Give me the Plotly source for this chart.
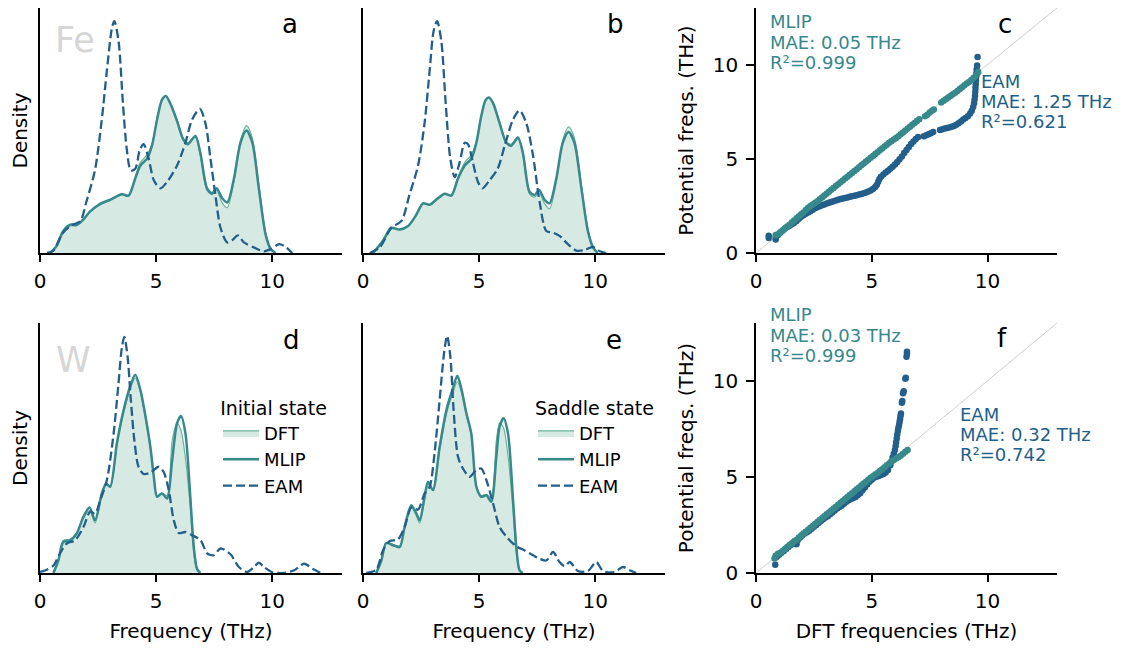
import plotly.graph_objects as go

# The page body has an 8px default margin: the figure occupies screen px 8..1123 x 8..650
OFF = 8
W, H = 1123 - OFF, 650 - OFF

# ---------------- DATA ----------------
# Panel a: Fe, initial state (density, arbitrary units; axis top = 1)
fe_ini_x = [0.43, 0.72, 1.0, 1.3, 1.58, 1.87, 2.16, 2.6, 3.02, 3.52, 3.81, 4.1, 4.32, 4.6, 4.82, 5.04, 5.25, 5.42,
            5.6, 5.9, 6.16, 6.36, 6.69, 6.9, 7.19, 7.41, 7.6, 7.84, 8.06, 8.35, 8.63, 8.89, 9.14, 9.42, 9.71, 9.93, 10.14]
fe_ini_mlip = [0, 0.03, 0.09, 0.116, 0.114, 0.137, 0.17, 0.2, 0.217, 0.24, 0.234, 0.304, 0.357, 0.384, 0.438, 0.545,
               0.625, 0.641, 0.612, 0.538, 0.465, 0.444, 0.478, 0.41, 0.264, 0.244, 0.264, 0.224, 0.206, 0.304, 0.45,
               0.5, 0.45, 0.264, 0.076, 0.016, 0]
fe_ini_dft = [0, 0.025, 0.085, 0.11, 0.112, 0.135, 0.17, 0.205, 0.22, 0.238, 0.236, 0.31, 0.37, 0.4, 0.445, 0.55,
              0.625, 0.64, 0.615, 0.545, 0.47, 0.45, 0.472, 0.4, 0.255, 0.238, 0.255, 0.205, 0.185, 0.295, 0.46,
              0.52, 0.47, 0.28, 0.085, 0.02, 0]
fe_ini_eam_x = [0.3, 0.58, 0.94, 1.3, 1.73, 2.0, 2.37, 2.66, 2.88, 3.1, 3.2, 3.38, 3.57, 3.74, 3.91, 4.1, 4.29, 4.46,
                4.68, 4.9, 5.18, 5.47, 5.9, 6.26, 6.55, 6.88, 7.12, 7.34, 7.55, 7.77, 8.06, 8.27, 8.52, 8.78, 9.2,
                9.64, 9.93, 10.3, 10.6, 10.86]
fe_ini_eam = [0, 0.01, 0.076, 0.11, 0.13, 0.21, 0.34, 0.545, 0.745, 0.92, 0.946, 0.866, 0.61, 0.42, 0.337, 0.344,
              0.418, 0.444, 0.384, 0.297, 0.264, 0.29, 0.357, 0.45, 0.545, 0.588, 0.53, 0.384, 0.237, 0.103, 0.043,
              0.052, 0.072, 0.043, 0.023, 0.007, 0.016, 0.036, 0.023, 0]

# Panel b: Fe, saddle state
fe_sad_x = [0.43, 0.86, 1.22, 1.58, 1.94, 2.3, 2.58, 2.87, 3.23, 3.52, 3.8, 4.09, 4.38, 4.66, 4.88, 5.09, 5.28, 5.42,
            5.6, 5.88, 6.17, 6.38, 6.67, 6.88, 7.17, 7.39, 7.58, 7.82, 8.03, 8.32, 8.6, 8.85, 9.1, 9.4, 9.68, 9.9, 10.1]
fe_sad_mlip = [0, 0.05, 0.103, 0.096, 0.11, 0.157, 0.203, 0.197, 0.224, 0.242, 0.234, 0.304, 0.357, 0.384, 0.45,
               0.558, 0.625, 0.635, 0.612, 0.53, 0.45, 0.438, 0.47, 0.41, 0.25, 0.237, 0.257, 0.217, 0.203, 0.304,
               0.45, 0.494, 0.45, 0.264, 0.09, 0.023, 0]
fe_sad_dft = [0, 0.045, 0.098, 0.094, 0.108, 0.155, 0.2, 0.197, 0.222, 0.24, 0.236, 0.31, 0.37, 0.4, 0.455, 0.56,
              0.625, 0.632, 0.61, 0.535, 0.455, 0.445, 0.475, 0.4, 0.24, 0.228, 0.245, 0.2, 0.18, 0.29, 0.46, 0.515,
              0.47, 0.28, 0.1, 0.028, 0]
fe_sad_eam_x = [0.29, 0.72, 1.22, 1.65, 2.0, 2.37, 2.65, 2.87, 3.04, 3.19, 3.37, 3.56, 3.76, 3.95, 4.16, 4.38, 4.52,
                4.73, 4.95, 5.14, 5.45, 5.8, 6.1, 6.46, 6.74, 7.03, 7.32, 7.6, 7.89, 8.18, 8.46, 8.82, 9.18, 9.54,
                9.9, 10.2, 10.47]
fe_sad_eam = [0, 0.023, 0.103, 0.13, 0.237, 0.357, 0.53, 0.745, 0.906, 0.946, 0.866, 0.61, 0.384, 0.31, 0.37, 0.45,
              0.444, 0.37, 0.29, 0.264, 0.297, 0.344, 0.438, 0.545, 0.582, 0.53, 0.397, 0.21, 0.09, 0.083, 0.07,
              0.036, 0.01, 0.012, 0.025, 0.007, 0]

# Panel d: W, initial state
w_ini_x = [0.58, 0.79, 1.0, 1.3, 1.58, 1.87, 2.13, 2.37, 2.66, 2.85, 3.02, 3.31, 3.6, 3.88, 4.1, 4.32, 4.53, 4.75,
           4.9, 5.04, 5.25, 5.47, 5.69, 5.9, 6.07, 6.26, 6.47, 6.62, 6.76, 6.9]
w_ini_mlip = [0, 0.05, 0.124, 0.131, 0.158, 0.225, 0.262, 0.211, 0.318, 0.358, 0.345, 0.519, 0.652, 0.746, 0.793,
              0.733, 0.632, 0.505, 0.385, 0.305, 0.318, 0.298, 0.452, 0.599, 0.628, 0.559, 0.305, 0.104, 0.017, 0]
w_ini_dft = [0, 0.055, 0.13, 0.135, 0.16, 0.218, 0.25, 0.2, 0.31, 0.352, 0.345, 0.51, 0.64, 0.735, 0.78, 0.725,
             0.625, 0.5, 0.385, 0.31, 0.32, 0.31, 0.53, 0.6, 0.57, 0.46, 0.26, 0.08, 0.01, 0]
w_ini_eam_x = [0, 0.29, 0.58, 0.86, 1.15, 1.51, 1.87, 2.16, 2.37, 2.59, 2.88, 3.17, 3.38, 3.53, 3.63, 3.77, 3.91,
               4.06, 4.24, 4.46, 4.75, 5.11, 5.32, 5.54, 5.76, 5.97, 6.26, 6.55, 6.91, 7.2, 7.48, 7.77, 8.2, 8.56,
               8.92, 9.21, 9.42, 9.64, 10.0, 10.5, 10.94, 11.37, 11.73, 12.09]
w_ini_eam = [0.004, 0.013, 0.03, 0.078, 0.118, 0.131, 0.184, 0.245, 0.238, 0.29, 0.372, 0.559, 0.759, 0.906, 0.944,
             0.866, 0.693, 0.532, 0.425, 0.396, 0.401, 0.425, 0.405, 0.332, 0.211, 0.16, 0.164, 0.151, 0.131, 0.078,
             0.071, 0.098, 0.075, 0.024, 0.004, 0.024, 0.041, 0.024, 0.003, 0, 0.011, 0.037, 0.017, 0]

# Panel e: W, saddle state
w_sad_x = [0.57, 0.79, 1.0, 1.29, 1.58, 1.79, 2.08, 2.3, 2.44, 2.65, 2.8, 3.01, 3.3, 3.59, 3.87, 4.06, 4.23, 4.45,
           4.66, 4.88, 5.09, 5.31, 5.52, 5.74, 5.88, 6.05, 6.24, 6.46, 6.6, 6.74, 6.88]
w_sad_mlip = [0, 0.05, 0.12, 0.111, 0.104, 0.184, 0.271, 0.238, 0.211, 0.305, 0.365, 0.332, 0.505, 0.652, 0.739,
              0.789, 0.739, 0.639, 0.559, 0.345, 0.305, 0.311, 0.285, 0.465, 0.586, 0.619, 0.559, 0.291, 0.104,
              0.011, 0]
w_sad_dft = [0, 0.05, 0.12, 0.115, 0.108, 0.175, 0.26, 0.228, 0.2, 0.29, 0.355, 0.33, 0.49, 0.635, 0.72, 0.765,
             0.725, 0.63, 0.55, 0.35, 0.31, 0.315, 0.3, 0.53, 0.6, 0.58, 0.47, 0.25, 0.08, 0.008, 0]
w_sad_eam_x = [0.14, 0.57, 0.86, 1.15, 1.5, 1.79, 2.08, 2.37, 2.65, 2.87, 3.08, 3.3, 3.49, 3.62, 3.76, 3.9, 4.09,
               4.3, 4.59, 4.88, 5.09, 5.31, 5.6, 5.88, 6.24, 6.6, 6.96, 7.32, 7.6, 7.89, 8.18, 8.46, 8.68, 8.9,
               9.25, 9.68, 10.04, 10.33, 10.83, 11.19, 11.48, 11.76]
w_sad_eam = [0, 0.013, 0.09, 0.128, 0.134, 0.184, 0.262, 0.254, 0.318, 0.345, 0.479, 0.693, 0.88, 0.949, 0.866,
             0.652, 0.465, 0.418, 0.385, 0.412, 0.418, 0.372, 0.278, 0.184, 0.138, 0.107, 0.09, 0.071, 0.057, 0.05,
             0.084, 0.044, 0.027, 0.044, 0.008, 0.008, 0.044, 0.008, 0.004, 0.024, 0.011, 0]

# Panel c: Fe parity (DFT frequency, potential frequency), THz
fe_mlip_dft = [0.85, 0.95, 1.05, 1.15, 1.25, 1.35, 1.45, 1.55, 1.65, 1.75, 1.85, 1.95, 2.05, 2.15, 2.25, 2.35, 2.45,
               2.55, 2.65, 2.75, 2.85, 2.95, 3.05, 3.15, 3.25, 3.35, 3.45, 3.55, 3.65, 3.75, 3.85, 3.95, 4.05, 4.15,
               4.25, 4.35, 4.45, 4.55, 4.65, 4.75, 4.85, 4.95, 5.05, 5.15, 5.25, 5.35, 5.45, 5.55, 5.65, 5.75, 5.85,
               5.95, 6.05, 6.15, 6.25, 6.35, 6.45, 6.55, 6.65, 6.75, 6.85, 6.95, 7.05, 7.3, 7.4, 7.5, 7.6, 7.68,
               8.0, 8.1, 8.2, 8.3, 8.4, 8.5, 8.6, 8.7, 8.8, 8.9, 9.0, 9.1, 9.2, 9.3, 9.4, 9.5, 9.55, 9.6]
fe_mlip_pot = [0.95, 1.0, 1.1, 1.2, 1.3, 1.4, 1.5, 1.62, 1.72, 1.85, 1.95, 2.05, 2.15, 2.28, 2.4, 2.5, 2.57, 2.65,
               2.75, 2.85, 2.95, 3.05, 3.15, 3.25, 3.35, 3.45, 3.55, 3.65, 3.75, 3.85, 3.95, 4.05, 4.15, 4.25, 4.35,
               4.45, 4.55, 4.65, 4.75, 4.85, 4.95, 5.05, 5.15, 5.25, 5.35, 5.45, 5.55, 5.65, 5.75, 5.85, 5.93, 6.02,
               6.1, 6.2, 6.3, 6.4, 6.5, 6.6, 6.7, 6.8, 6.9, 7.0, 7.1, 7.25, 7.33, 7.45, 7.55, 7.62, 7.98, 8.08, 8.16,
               8.25, 8.33, 8.42, 8.5, 8.6, 8.7, 8.8, 8.9, 9.0, 9.08, 9.18, 9.3, 9.42, 9.5, 9.6]
fe_eam_dft = [0.55, 0.55, 0.85, 0.85, 0.95, 1.05, 1.15, 1.25, 1.35, 1.45, 1.55, 1.65, 1.75, 1.85, 1.95, 2.05, 2.15,
              2.25, 2.35, 2.45, 2.55, 2.65, 2.75, 2.85, 2.95, 3.05, 3.15, 3.25, 3.35, 3.45, 3.55, 3.65, 3.75, 3.85,
              3.95, 4.05, 4.15, 4.25, 4.35, 4.45, 4.55, 4.65, 4.75, 4.85, 4.95, 5.05, 5.15, 5.22, 5.28, 5.33, 5.4,
              5.5, 5.6, 5.7, 5.8, 5.9, 6.0, 6.1, 6.2, 6.3, 6.4, 6.5, 6.6, 6.7, 6.8, 6.9, 7.0, 7.25, 7.35, 7.45,
              7.55, 7.65, 7.95, 8.05, 8.15, 8.25, 8.35, 8.45, 8.55, 8.65, 8.75, 8.85, 8.95, 9.05, 9.15, 9.25, 9.32,
              9.38, 9.42, 9.44, 9.46, 9.47, 9.48, 9.49, 9.5, 9.51, 9.52, 9.53, 9.55, 9.57]
fe_eam_pot = [0.92, 0.8, 0.72, 0.85, 0.95, 1.08, 1.2, 1.3, 1.38, 1.45, 1.52, 1.6, 1.7, 1.82, 1.92, 2.0, 2.08, 2.15,
              2.22, 2.3, 2.37, 2.43, 2.48, 2.53, 2.57, 2.62, 2.66, 2.7, 2.74, 2.78, 2.82, 2.86, 2.89, 2.92, 2.95,
              2.98, 3.01, 3.04, 3.07, 3.1, 3.13, 3.17, 3.21, 3.26, 3.32, 3.4, 3.5, 3.62, 3.78, 3.93, 4.05, 4.17,
              4.27, 4.37, 4.47, 4.57, 4.7, 4.83, 4.97, 5.12, 5.3, 5.47, 5.63, 5.78, 5.92, 6.05, 6.15, 6.2, 6.25,
              6.3, 6.36, 6.42, 6.52, 6.56, 6.6, 6.63, 6.66, 6.7, 6.74, 6.8, 6.88, 6.98, 7.08, 7.16, 7.26, 7.4, 7.55,
              7.75, 7.95, 8.15, 8.35, 8.55, 8.75, 8.95, 9.15, 9.35, 9.55, 9.75, 9.95, 10.4]

# Panel f: W parity
w_mlip_dft = [0.8, 0.85, 0.95, 1.05, 1.15, 1.25, 1.35, 1.45, 1.55, 1.65, 1.75, 1.85, 1.95, 2.05, 2.15, 2.25, 2.35,
              2.45, 2.55, 2.65, 2.75, 2.85, 2.95, 3.05, 3.15, 3.25, 3.35, 3.45, 3.55, 3.65, 3.75, 3.85, 3.95, 4.05,
              4.15, 4.25, 4.35, 4.45, 4.55, 4.65, 4.75, 4.85, 4.95, 5.05, 5.15, 5.25, 5.35, 5.45, 5.55, 5.65, 5.75,
              5.85, 5.95, 6.05, 6.15, 6.25, 6.35, 6.45, 6.55]
w_mlip_pot = [0.75, 0.9, 1.0, 1.05, 1.15, 1.25, 1.35, 1.45, 1.55, 1.65, 1.72, 1.85, 1.95, 2.05, 2.15, 2.25, 2.35,
              2.45, 2.55, 2.65, 2.75, 2.85, 2.95, 3.05, 3.15, 3.25, 3.35, 3.45, 3.55, 3.65, 3.75, 3.85, 3.95, 4.05,
              4.15, 4.25, 4.35, 4.45, 4.55, 4.65, 4.75, 4.85, 4.95, 5.03, 5.12, 5.2, 5.3, 5.4, 5.5, 5.6, 5.7, 5.8,
              5.88, 5.95, 6.02, 6.1, 6.2, 6.3, 6.4]
w_eam_dft = [0.83, 0.9, 1.0, 1.1, 1.2, 1.3, 1.4, 1.5, 1.6, 1.7, 1.75, 1.8, 1.9, 2.0, 2.1, 2.2, 2.3, 2.4, 2.5, 2.6,
             2.7, 2.8, 2.9, 3.0, 3.1, 3.2, 3.3, 3.4, 3.5, 3.6, 3.7, 3.8, 3.9, 4.0, 4.1, 4.2, 4.3, 4.4, 4.5, 4.6, 4.7,
             4.8, 4.9, 5.0, 5.1, 5.2, 5.3, 5.4, 5.5, 5.6, 5.7, 5.8, 5.85, 5.9, 5.95, 6.0, 6.03, 6.05, 6.08, 6.1,
             6.13, 6.15, 6.18, 6.2, 6.22, 6.24, 6.26, 6.3, 6.32, 6.35, 6.38, 6.45, 6.47, 6.5, 6.52, 6.52]
w_eam_pot = [0.43, 0.85, 0.95, 1.05, 1.15, 1.25, 1.35, 1.45, 1.55, 1.6, 1.5, 1.7, 1.85, 1.95, 2.05, 2.12, 2.2, 2.3,
             2.4, 2.5, 2.6, 2.7, 2.8, 2.88, 2.95, 3.05, 3.15, 3.25, 3.35, 3.42, 3.5, 3.6, 3.7, 3.78, 3.85, 3.9,
             3.95, 4.05, 4.15, 4.3, 4.45, 4.6, 4.75, 4.85, 4.95, 5.0, 5.05, 5.1, 5.15, 5.22, 5.35, 5.6, 5.8, 6.0,
             6.2, 6.4, 6.6, 6.8, 7.0, 7.2, 7.4, 7.55, 7.7, 7.85, 8.0, 8.15, 8.3, 8.85, 8.95, 9.35, 9.45, 10.1, 10.15,
             11.25, 11.4, 11.5]

diag = [0, 13]
freq_ticks = [0, 5, 10]
freq_range = [0, 13]
density_range = [0, 1.0]

fe_stats = {"MLIP": ["MLIP", "MAE: 0.05 THz", "R²=0.999"], "EAM": ["EAM", "MAE: 1.25 THz", "R²=0.621"]}
w_stats = {"MLIP": ["MLIP", "MAE: 0.03 THz", "R²=0.999"], "EAM": ["EAM", "MAE: 0.32 THz", "R²=0.742"]}

# ---------------- STYLE ----------------
FONT = "DejaVu Sans"
C_MLIP = "#37898b"
C_EAM = "#235f8a"
C_DFT_LINE = "#6db39a"
C_DFT_FILL = "rgba(109,179,154,0.28)"
C_DIAG = "#d0d0d0"


def px_x(p):
    return (p - OFF) / W


def px_y(p):
    return 1 - (p - OFF) / H


col_dom = [[px_x(40), px_x(342)], [px_x(363), px_x(665)], [px_x(756), px_x(1057)]]
row_dom = [[px_y(253), 1.0], [px_y(573), px_y(323)]]

fig = go.Figure()


def density_panel(idx, xs, mlip, dft, ex, eam, legend):
    xa, ya = f"x{idx}" if idx > 1 else "x", f"y{idx}" if idx > 1 else "y"
    show = legend is not None
    fig.add_trace(go.Scatter(x=xs, y=dft, mode="lines", name="DFT", fill="tozeroy", fillcolor=C_DFT_FILL,
                             line=dict(color=C_DFT_LINE, width=1.2, shape="spline", smoothing=0.8),
                             xaxis=xa, yaxis=ya, showlegend=show, legend=legend or "legend"))
    fig.add_trace(go.Scatter(x=xs, y=mlip, mode="lines", name="MLIP",
                             line=dict(color=C_MLIP, width=2.5, shape="spline", smoothing=0.8),
                             xaxis=xa, yaxis=ya, showlegend=show, legend=legend or "legend"))
    fig.add_trace(go.Scatter(x=ex, y=eam, mode="lines", name="EAM",
                             line=dict(color=C_EAM, width=2.3, dash="9px,4px", shape="spline", smoothing=0.8),
                             xaxis=xa, yaxis=ya, showlegend=show, legend=legend or "legend"))


def parity_panel(idx, mx, my, ex, ey):
    xa, ya = f"x{idx}", f"y{idx}"
    fig.add_trace(go.Scatter(x=diag, y=diag, mode="lines", line=dict(color=C_DIAG, width=1),
                             xaxis=xa, yaxis=ya, showlegend=False, hoverinfo="skip"))
    fig.add_trace(go.Scatter(x=ex, y=ey, mode="markers", marker=dict(color=C_EAM, size=6.5),
                             xaxis=xa, yaxis=ya, showlegend=False))
    fig.add_trace(go.Scatter(x=mx, y=my, mode="markers", marker=dict(color=C_MLIP, size=6.5),
                             xaxis=xa, yaxis=ya, showlegend=False))


density_panel(1, fe_ini_x, fe_ini_mlip, fe_ini_dft, fe_ini_eam_x, fe_ini_eam, None)
density_panel(2, fe_sad_x, fe_sad_mlip, fe_sad_dft, fe_sad_eam_x, fe_sad_eam, None)
parity_panel(3, fe_mlip_dft, fe_mlip_pot, fe_eam_dft, fe_eam_pot)
density_panel(4, w_ini_x, w_ini_mlip, w_ini_dft, w_ini_eam_x, w_ini_eam, "legend")
density_panel(5, w_sad_x, w_sad_mlip, w_sad_dft, w_sad_eam_x, w_sad_eam, "legend2")
parity_panel(6, w_mlip_dft, w_mlip_pot, w_eam_dft, w_eam_pot)

axis_common = dict(showline=True, linecolor="black", linewidth=1.5, showgrid=False, zeroline=False,
                   ticks="outside", ticklen=7, tickwidth=1.5, tickcolor="black", automargin=False,
                   tickfont=dict(family=FONT, size=20, color="black"))
layout = {}
for i in range(6):
    r, c = divmod(i, 3)
    n = "" if i == 0 else str(i + 1)
    xa = dict(axis_common, domain=col_dom[c], range=freq_range, tickvals=freq_ticks,
              anchor="y" + n, fixedrange=True, ticklabelstandoff=2)
    ya = dict(axis_common, domain=row_dom[r], anchor="x" + n, fixedrange=True)
    if c < 2:
        ya.update(range=density_range, showticklabels=False, ticks="")
        if c == 0:
            ya["title"] = dict(text="Density", font=dict(family=FONT, size=20, color="black"), standoff=8)
    else:
        ya.update(range=freq_range, tickvals=freq_ticks, ticklen=8, ticklabelstandoff=4)
        ya["title"] = dict(text="Potential freqs. (THz)", font=dict(family=FONT, size=20, color="black"),
                           standoff=14)
    if r == 1:
        t = "DFT frequencies (THz)" if c == 2 else "Frequency (THz)"
        xa["title"] = dict(text=t, font=dict(family=FONT, size=20, color="black"), standoff=12)
    layout["xaxis" + n] = xa
    layout["yaxis" + n] = ya

fig.update_layout(**layout)

legend_common = dict(bgcolor="rgba(0,0,0,0)", font=dict(family=FONT, size=18, color="black"),
                     xanchor="left", yanchor="top", itemwidth=36, tracegroupgap=0)
fig.update_layout(
    width=W, height=H, margin=dict(l=0, r=0, t=0, b=0),
    plot_bgcolor="white", paper_bgcolor="white",
    font=dict(family=FONT, color="black"),
    legend=dict(legend_common, x=px_x(218), y=px_y(390),
                title=dict(text="Initial state", side="top center", font=dict(family=FONT, size=19))),
    legend2=dict(legend_common, x=px_x(533), y=px_y(390),
                 title=dict(text="Saddle state", side="top center", font=dict(family=FONT, size=19))),
)

annotations = []


def label(text, x, y, size, color="black", xanchor="center"):
    annotations.append(dict(text=text, x=px_x(x), y=px_y(y), xref="paper", yref="paper", showarrow=False,
                            xanchor=xanchor, yanchor="middle", borderpad=0,
                            font=dict(family=FONT, size=size, color=color)))


for t, x, y in [("a", 290, 24), ("b", 615, 24), ("c", 1005, 24), ("d", 291, 340), ("e", 614, 340),
                ("f", 1002, 338)]:
    label(t, x, y, 26)
label("Fe", 54, 40, 35, "#d6d6d6", "left")
label("W", 55, 360, 35, "#d6d6d6", "left")

for lines, x, ys, col in [(fe_stats["MLIP"], 769, [21.5, 42, 62], C_MLIP),
                          (fe_stats["EAM"], 980, [81.7, 101.7, 121.7], C_EAM),
                          (w_stats["MLIP"], 769, [314.7, 335.4, 355.4], C_MLIP),
                          (w_stats["EAM"], 959, [414.4, 434.4, 454.4], C_EAM)]:
    for s, y in zip(lines, ys):
        label(s, x, y, 18, col, "left")

fig.update_layout(annotations=annotations)
fig.write_html("out.html")
